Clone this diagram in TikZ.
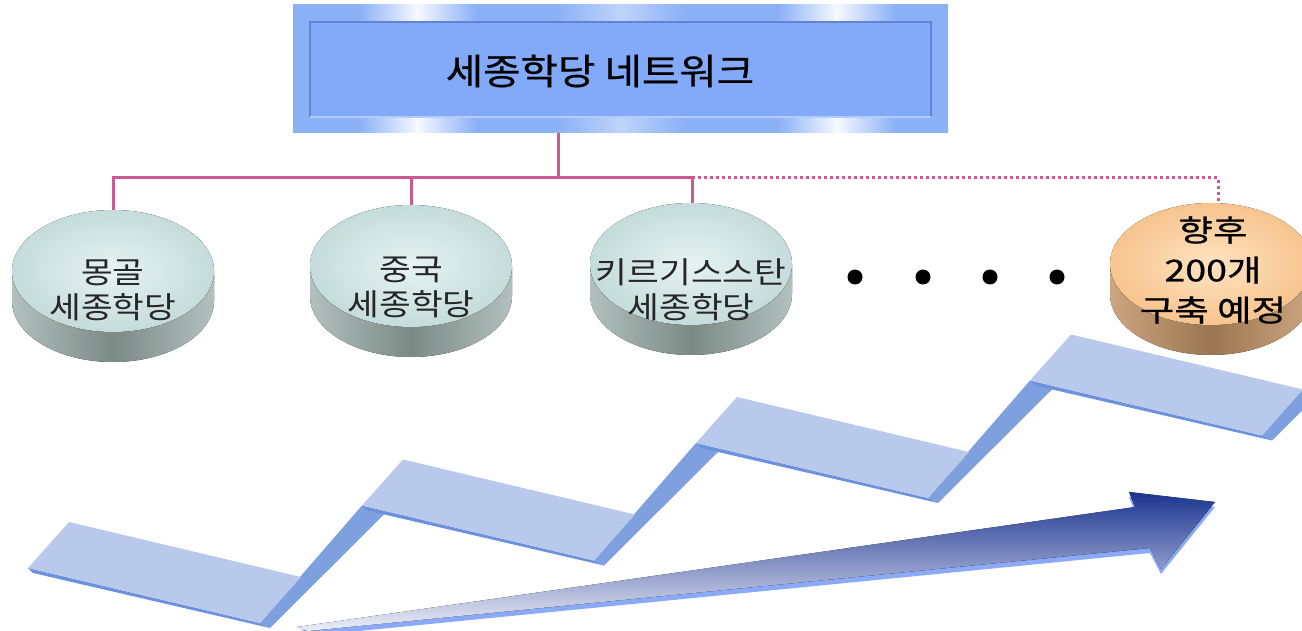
\documentclass[tikz,border=0pt]{standalone}
\usepackage{fontspec}
\newfontfamily\kr[FakeStretch=1.15]{Noto Sans CJK KR}
\newfontfamily\krt[FakeStretch=1.13,FakeBold=0.6]{Noto Sans CJK KR}
\newfontfamily\kro[FakeStretch=1.25,FakeBold=0.8]{Noto Sans CJK KR}
\usetikzlibrary{calc}
\definecolor{fb}{HTML}{8AB0F6}
\definecolor{fw}{HTML}{F6F9FF}
\definecolor{innerblue}{HTML}{82AAF8}
\definecolor{innerdark}{HTML}{6283D8}
\definecolor{conncol}{HTML}{CC5A92}
\definecolor{ribtop}{HTML}{B9C9EB}
\definecolor{ribrise}{HTML}{7EA0DE}
\definecolor{ribedge}{HTML}{6C91DD}
\definecolor{arrdark}{HTML}{1C3490}
\definecolor{arrlight}{HTML}{ECEEF7}
\definecolor{arredge}{HTML}{8AAAF8}
\definecolor{gsl}{HTML}{B2C1BD}
\definecolor{gsd}{HTML}{7C8A86}
\definecolor{gti}{HTML}{E6F3F2}
\definecolor{gto}{HTML}{C4DCDB}
\definecolor{osl}{HTML}{CCA67F}
\definecolor{osd}{HTML}{9A7652}
\definecolor{oti}{HTML}{FFE3C0}
\definecolor{oto}{HTML}{F7C48F}
\pgfdeclarehorizontalshading{frameshade}{100bp}{color(0bp)=(fb); color(25bp)=(fb); color(30bp)=(fb); color(34.5bp)=(fw); color(39bp)=(fb); color(45bp)=(fb); color(50bp)=(fb!55!white); color(55bp)=(fb); color(62bp)=(fb); color(66.5bp)=(fw); color(71bp)=(fb); color(75bp)=(fb); color(100bp)=(fb)}
\newcommand{\mydisc}[6]{%
  \fill[left color=#3, right color=#3, middle color=#4]
    (#1-101,#2) -- (#1-101,#2+30)
    arc[start angle=180,end angle=0,x radius=101,y radius=61]
    -- (#1+101,#2)
    arc[start angle=0,end angle=180,x radius=101,y radius=61] -- cycle;
  \fill[inner color=#5, outer color=#6] (#1,#2) ellipse[x radius=101,y radius=61];
}
\tikzset{
  conn/.style={draw=conncol, line width=3pt},
  dotconn/.style={draw=conncol, line width=3pt, dash pattern=on 3pt off 3pt},
  disctext/.style={font=\kr\fontsize{30}{35}\selectfont, align=center, text=black!85, inner sep=0pt},
  bigdot/.style={circle, fill=black, minimum size=15pt, inner sep=0pt},
  framebox/.style={shading=frameshade, minimum width=655pt, minimum height=128pt, inner sep=0pt},
  innerbox/.style={fill=innerblue, minimum width=621pt, minimum height=95pt, inner sep=0pt},
}
\begin{document}
\begin{tikzpicture}[x=1pt,y=-1pt]
\useasboundingbox (0,0) rectangle (1302,631);
\begin{scope}
\clip (0,0) rectangle (1302,631);
% ---------- ribbon ----------
\foreach \k in {0,...,4}{
  \coordinate (BL\k) at (28+334*\k, 568-62.5*\k);
  \coordinate (BR\k) at ($(BL\k)+(232,55)$);
  \coordinate (TL\k) at ($(BL\k)+(41,-46)$);
  \coordinate (TR\k) at ($(BR\k)+(41,-46)$);
}
\foreach \k/\n in {0/1,1/2,2/3,3/4}{
  \fill[ribrise] (BR\k) -- ($(BR\k)+(10,5)$) -- ($(BL\n)+(22,9)$) -- (BL\n) -- cycle;
}
\foreach \k in {0,...,3}{
  \fill[ribedge] (BL\k) -- (BR\k) -- ($(BR\k)+(10,5)$) -- ($(BL\k)+(5,5)$) -- cycle;
}
\foreach \k in {0,...,3}{
  \fill[ribtop] (BL\k) -- (BR\k) -- (TR\k) -- (TL\k) -- cycle;
}
% ---------- arrow ----------
\coordinate (a1) at (297,627);
\coordinate (a2) at (1135,507);
\coordinate (a3) at (1129,492);
\coordinate (a4) at (1215,502);
\coordinate (a5) at (1161,569);
\coordinate (a6) at (1150,548);
\coordinate (a7) at (308,631);
\fill[arredge] ($(a1)+(2,4)$) -- ($(a2)+(0,5)$) -- ($(a3)+(0,5)$) -- ($(a4)+(0,5)$) -- ($(a5)+(0,5)$) -- ($(a6)+(0,5)$) -- ($(a7)+(0,5)$) -- cycle;
\fill[top color=arrdark, bottom color=arrlight] (a1) -- (a2) -- (a3) -- (a4) -- (a5) -- (a6) -- (a7) -- cycle;
% ---------- title box ----------
\node[framebox] (box) at (620.5,69) {};
\node[innerbox] (inner) at (620.5,69.5) {};
\draw[innerdark, line width=2.5pt] (inner.south west) -- (inner.north west) -- (inner.north east) -- (inner.south east);
\draw[innerblue!60!white, line width=1.5pt] (inner.south west) -- (inner.south east);
\node[font=\krt\fontsize{36}{40}\selectfont, text=black, inner sep=0pt] (title) at (600,71) {세종학당 네트워크};
% ---------- connectors ----------
\coordinate (jn) at (558,178);
\coordinate (d1top) at (113,215);
\coordinate (d2top) at (411,210);
\coordinate (d3top) at (692,208);
\coordinate (d4top) at (1218,206);
\draw[conn] (box.south -| jn) -- (jn);
\draw[conn] (d1top) -- (d1top |- jn) -- (d3top |- jn) -- (d3top);
\draw[conn] (d2top) -- (d2top |- jn);
\draw[dotconn] (d3top |- jn) -- (d4top |- jn) -- (d4top);
% ---------- discs ----------
\mydisc{113}{271}{gsl}{gsd}{gti}{gto}
\mydisc{411}{266}{gsl}{gsd}{gti}{gto}
\mydisc{691}{264}{gsl}{gsd}{gti}{gto}
\mydisc{1211}{264}{osl}{osd}{oti}{oto}
\end{scope}
\node[disctext] (d1) at (113,290) {몽골\\세종학당};
\node[disctext] (d2) at (411,287) {중국\\세종학당};
\node[disctext] (d3) at (691,290) {키르기스스탄\\세종학당};
\node[disctext, font=\kro\fontsize{30}{40}\selectfont, text=black] (d4) at (1213,270) {향후\\200개\\구축 예정};
% ---------- dots ----------
\node[bigdot] (dot1) at (855,277) {};
\node[bigdot] (dot2) at (923,277) {};
\node[bigdot] (dot3) at (990,277) {};
\node[bigdot] (dot4) at (1057,277) {};
\end{tikzpicture}
\end{document}
